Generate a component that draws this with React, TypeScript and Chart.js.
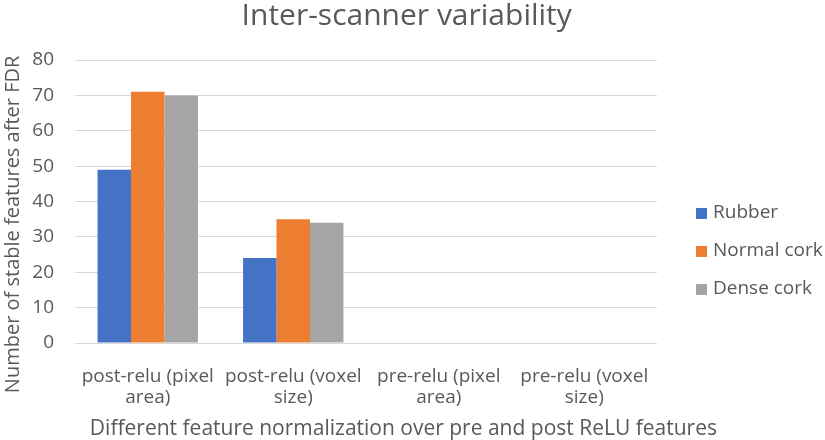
import React, { useEffect, useRef } from "react";
import { Chart, registerables } from "chart.js";

Chart.register(...registerables);

const categories: string[][] = [
  ["post-relu (pixel", "area)"],
  ["post-relu (voxel", "size)"],
  ["pre-relu (pixel", "area)"],
  ["pre-relu (voxel", "size)"],
];
const seriesNames = ["Rubber", "Normal cork", "Dense cork"];
const rubber = [49, 24, 0, 0];
const normalCork = [71, 35, 0, 0];
const denseCork = [70, 34, 0, 0];
const seriesColors = ["#4472C4", "#ED7D31", "#A5A5A5"];
const yMin = 0;
const yMax = 80;
const yStep = 10;
const chartTitle = "Inter-scanner variability";
const xTitle = "Different feature normalization over pre and post ReLU features";
const yTitle = "Number of stable features after FDR";

const FONT = "'Open Sans', sans-serif";
const TEXT = "#595959";

const extrasPlugin = {
  id: "extras",
  afterDraw(chart: any) {
    const ctx = chart.ctx;
    const ca = chart.chartArea;
    ctx.save();
    ctx.fillStyle = TEXT;
    // chart title
    ctx.font = `30px ${FONT}`;
    ctx.textAlign = "center";
    ctx.textBaseline = "alphabetic";
    ctx.fillText(chartTitle, chart.width * 0.493, 25);
    // x axis title
    ctx.font = `21px ${FONT}`;
    ctx.fillText(xTitle, chart.width * 0.489, chart.height - 5);
    // y axis title
    ctx.font = `20px ${FONT}`;
    ctx.textBaseline = "middle";
    ctx.save();
    ctx.translate(13, chart.height * 0.51);
    ctx.rotate(-Math.PI / 2);
    ctx.fillText(yTitle, 0, 0);
    ctx.restore();
    // legend
    ctx.font = `19px ${FONT}`;
    ctx.textAlign = "left";
    const x0 = ca.right + 39;
    const y0 = chart.height * 0.484;
    chart.data.datasets.forEach((ds: any, i: number) => {
      const y = y0 + i * 38;
      ctx.fillStyle = ds.backgroundColor;
      ctx.fillRect(x0, y - 5, 11, 11);
      ctx.fillStyle = TEXT;
      ctx.fillText(ds.label, x0 + 17, y);
    });
    ctx.restore();
  },
};

export default function App() {
  const ref = useRef<HTMLCanvasElement>(null);
  useEffect(() => {
    document.body.style.margin = "0";
    const chart = new Chart(ref.current!, {
      type: "bar",
      data: {
        labels: categories,
        datasets: [rubber, normalCork, denseCork].map((d, i) => ({
          label: seriesNames[i],
          data: d,
          backgroundColor: seriesColors[i],
          borderWidth: 0,
          categoryPercentage: 0.69,
          barPercentage: 1,
        })),
      },
      options: {
        animation: false,
        responsive: false,
        maintainAspectRatio: false,
        layout: { padding: { left: 22, right: 168, top: 60, bottom: 0 } },
        plugins: {
          legend: { display: false },
          tooltip: { enabled: false },
          title: { display: false },
        },
        scales: {
          x: {
            grid: { display: false },
            border: { display: false },
            ticks: {
              color: TEXT,
              font: { family: FONT, size: 19, lineHeight: 1.1 },
              padding: 15,
              maxRotation: 0,
              autoSkip: false,
            },
            afterFit: (s: any) => {
              s.height = 97;
            },
          },
          y: {
            min: yMin,
            max: yMax,
            grid: { color: "#D9D9D9", drawTicks: false },
            border: { display: false },
            ticks: {
              stepSize: yStep,
              color: TEXT,
              font: { family: FONT, size: 19 },
              padding: 21,
            },
            afterFit: (s: any) => {
              s.width = 53;
            },
          },
        },
      },
      plugins: [extrasPlugin],
    });
    return () => chart.destroy();
  }, []);
  return (
    <div style={{ width: 825, height: 440 }}>
      <canvas ref={ref} width={825} height={440} />
    </div>
  );
}
